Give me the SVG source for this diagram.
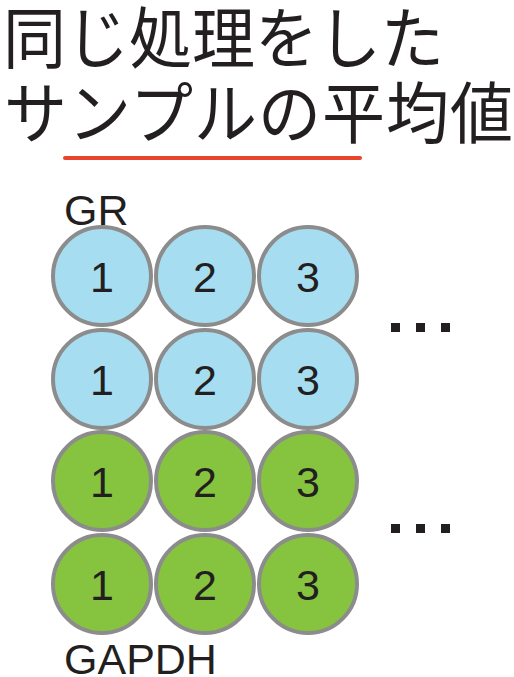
<svg xmlns="http://www.w3.org/2000/svg" width="514" height="677" viewBox="0 0 514 677">
<style>
.title{font-family:"Noto Sans CJK JP","Noto Sans CJK SC",sans-serif;font-size:63px;fill:#231f20;}
.lbl{font-family:"Liberation Sans",Arial,sans-serif;font-size:43px;fill:#231f20;}
.num{font-family:"Liberation Sans",Arial,sans-serif;font-size:43px;fill:#231f20;text-anchor:middle;}
.gr{fill:#a6ddf0;stroke:#8c8c8c;stroke-width:4;}
.gp{fill:#86c440;stroke:#8c8c8c;stroke-width:4;}
.dot{fill:#231f20;}
</style>
<rect width="514" height="677" fill="#ffffff"/>
<g id="title">
<text class="title" transform="translate(3,62.5) scale(1,1.06)">同じ処理をした</text>
<text class="title" transform="translate(4,137.5) scale(1,1.06)" letter-spacing="1">サンプルの平均値</text>
</g>
<line x1="65" y1="158" x2="360" y2="158" stroke="#e8452c" stroke-width="4" stroke-linecap="round"/>
<g id="label-GR"><text class="lbl" x="64" y="225">GR</text></g>
<g id="gr-row1">
<circle class="gr" cx="102" cy="276" r="49"/><text class="num" x="102" y="292">1</text>
<circle class="gr" cx="205" cy="276" r="49"/><text class="num" x="205" y="292">2</text>
<circle class="gr" cx="308" cy="276" r="49"/><text class="num" x="308" y="292">3</text>
</g>
<g id="gr-row2">
<circle class="gr" cx="102" cy="379" r="49"/><text class="num" x="102" y="395">1</text>
<circle class="gr" cx="205" cy="379" r="49"/><text class="num" x="205" y="395">2</text>
<circle class="gr" cx="308" cy="379" r="49"/><text class="num" x="308" y="395">3</text>
</g>
<g id="gapdh-row1">
<circle class="gp" cx="102" cy="481" r="49"/><text class="num" x="102" y="497">1</text>
<circle class="gp" cx="205" cy="481" r="49"/><text class="num" x="205" y="497">2</text>
<circle class="gp" cx="308" cy="481" r="49"/><text class="num" x="308" y="497">3</text>
</g>
<g id="gapdh-row2">
<circle class="gp" cx="102" cy="584" r="49"/><text class="num" x="102" y="600">1</text>
<circle class="gp" cx="205" cy="584" r="49"/><text class="num" x="205" y="600">2</text>
<circle class="gp" cx="308" cy="584" r="49"/><text class="num" x="308" y="600">3</text>
</g>
<g id="dots-gr">
<rect class="dot" x="391" y="323" width="9" height="9"/>
<rect class="dot" x="416" y="323" width="9" height="9"/>
<rect class="dot" x="441" y="323" width="9" height="9"/>
</g>
<g id="dots-gapdh">
<rect class="dot" x="391" y="524" width="9" height="9"/>
<rect class="dot" x="416" y="524" width="9" height="9"/>
<rect class="dot" x="441" y="524" width="9" height="9"/>
</g>
<g id="label-GAPDH"><text class="lbl" x="64" y="674">GAPDH</text></g>
</svg>
